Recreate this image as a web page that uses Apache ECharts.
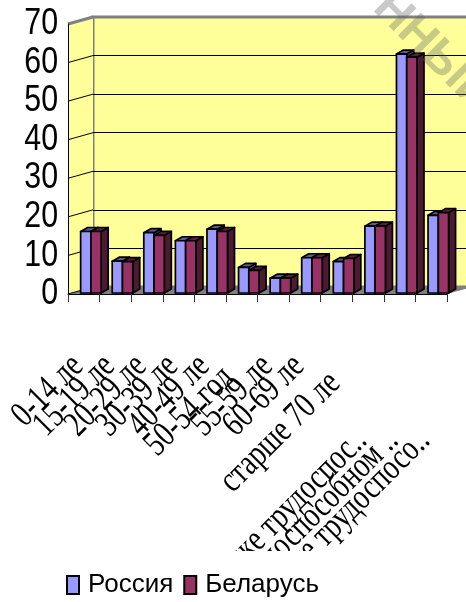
<!DOCTYPE html>
<html>
<head>
<meta charset="utf-8">
<script src="https://cdn.jsdelivr.net/npm/echarts@6/dist/echarts.min.js"></script>
<style>
  html, body { margin: 0; padding: 0; background: #ffffff; }
  #chart { width: 466px; height: 602px; }
</style>
</head>
<body>
<div id="chart"></div>
<script>
// Age structure of the population, % (Россия vs Беларусь)
const categories = [
  '0-14 лет', '15-19 лет', '20-29 лет', '30-39 лет', '40-49 лет',
  '50-54 года', '55-59 лет', '60-69 лет', 'старше 70 лет',
  'моложе трудоспособного возраста', 'в трудоспособном возрасте',
  'старше трудоспособного возраста'
];
const russia  = [16.2, 8.5, 15.9, 13.8, 16.8, 6.9, 4.1, 9.4, 8.4, 17.6, 62.2, 20.4];
const belarus = [16.2, 8.4, 15.2, 13.8, 16.2, 6.1, 4.1, 9.4, 9.2, 17.6, 61.4, 21.1];
const seriesNames = ['Россия', 'Беларусь'];
const yTicks = [0, 10, 20, 30, 40, 50, 60, 70];

// ---- styling ----
const SANS = "'Liberation Sans', Arial, sans-serif";
const WALL = '#FFFF99';
const FLOOR = '#808080';
const FACE = ['#9999FF', '#993366'];
const SIDE = ['#4D4D80', '#4D1A33'];
const TOPF = ['#5C5C99', '#5C1F3D'];
const DEPTH = [25, -7];      // depth of the plot box
const BAR_DEPTH = [7, -4];   // depth of a column

// category captions: how many characters fit, the clip mark, and a nudge
// (along = down-left along the text, across = down-right across it)
const captionFit = [
  { chars: 7 }, { chars: 8 }, { chars: 8 }, { chars: 8 }, { chars: 8 },
  { chars: 9, along: 13, across: 3 },
  { chars: 8 }, { chars: 8 },
  { chars: 12, along: 9, across: 15 },
  { chars: 16, mark: '..', along: 53, across: 52 },
  { chars: 17, mark: '..', along: 53, across: 52 },
  { chars: 17, mark: '..', along: 53, across: 52 }
];

function renderWalls(params, api) {
  const v = api.value(1);
  const bw = api.size([1, 0])[0];
  const p = api.coord([0, v]);
  const x0 = p[0] - bw / 2;
  const children = [];
  if (params.dataIndex === 0) {
    const top = api.coord([0, yTicks[yTicks.length - 1]]);
    const right = api.coord([categories.length - 1, 0])[0] + bw / 2;
    children.push({
      type: 'polygon',
      shape: { points: [[x0, top[1]], [x0 + DEPTH[0], top[1] + DEPTH[1]], [x0 + DEPTH[0], p[1] + DEPTH[1]], [x0, p[1]]] },
      style: { fill: WALL, stroke: null }
    });
    children.push({
      type: 'polygon',
      shape: { points: [[x0, p[1]], [right, p[1]], [right + DEPTH[0], p[1] + DEPTH[1]], [x0 + DEPTH[0], p[1] + DEPTH[1]]] },
      style: { fill: FLOOR, stroke: null }
    });
  }
  const isTop = v === yTicks[yTicks.length - 1];
  children.push({
    type: 'line',
    shape: { x1: x0, y1: p[1], x2: x0 + DEPTH[0], y2: p[1] + DEPTH[1] },
    style: { stroke: isTop ? '#808080' : '#000000', lineWidth: isTop ? 3 : 1 }
  });
  // value caption left of the front axis
  children.push({
    type: 'text', x: x0 - 10, y: p[1], scaleX: 0.82,
    style: { text: String(v), fill: '#000000', font: '37px ' + SANS,
             align: 'right', verticalAlign: 'middle' }
  });
  return { type: 'group', children: children };
}

function renderCaptions(params, api) {
  const i = api.value(0);
  const base = api.coord([i, 0]);
  const fit = captionFit[i];
  const name = categories[i];
  const text = name.length > fit.chars ? name.slice(0, fit.chars) + (fit.mark || '') : name;
  const a = fit.along || 0, c = fit.across || 0;
  const k = Math.SQRT1_2;
  const x = base[0] - 6 - a * k + c * k;
  const y = base[1] + 67 + a * k + c * k;
  return {
    type: 'text', x: x, y: y, rotation: Math.PI / 4, scaleY: 1.3,
    style: { text: text, fill: '#000000', font: "28px 'Liberation Serif', serif",
             align: 'right', verticalAlign: 'middle' }
  };
}

function makeBarRenderer(s) {
  return function (params, api) {
    const i = api.value(0);
    const v = api.value(1);
    const bw = api.size([1, 0])[0];
    const top = api.coord([i, v]);
    const base = api.coord([i, 0]);
    const w = bw * 0.325;
    const x1 = top[0] - bw * 0.1 + s * w;
    const x2 = x1 + w;
    const yT = top[1];
    const yB = base[1] - 1;
    const dx = BAR_DEPTH[0], dy = BAR_DEPTH[1];
    const line = { stroke: '#000000', lineWidth: 1.7, lineJoin: 'round' };
    return {
      type: 'group',
      children: [
        { type: 'polygon', shape: { points: [[x2, yT], [x2 + dx, yT + dy], [x2 + dx, yB + dy], [x2, yB]] },
          style: Object.assign({ fill: SIDE[s] }, line) },
        { type: 'polygon', shape: { points: [[x1, yT], [x1 + dx, yT + dy], [x2 + dx, yT + dy], [x2, yT]] },
          style: Object.assign({ fill: TOPF[s] }, line) },
        { type: 'polygon', shape: { points: [[x1, yT], [x2, yT], [x2, yB], [x1, yB]] },
          style: Object.assign({ fill: FACE[s] }, line) }
      ]
    };
  };
}

const chart = echarts.init(document.getElementById('chart'), null, { renderer: 'canvas' });

chart.setOption({
  backgroundColor: '#ffffff',
  animation: false,
  grid: [
    { left: 68, right: 19, top: 24, bottom: 308, outerBoundsMode: 'none', containLabel: false },
    { left: 93, right: -6, top: 17, bottom: 315, outerBoundsMode: 'none', containLabel: false,
      show: true, backgroundColor: WALL, borderColor: '#808080', borderWidth: 3, z: -1 }
  ],
  xAxis: [
    {
      type: 'category', gridIndex: 0, data: categories, z: 5,
      axisLine: { show: true, lineStyle: { color: '#000000', width: 1 } },
      axisTick: { show: true, length: 8, interval: 0, lineStyle: { color: '#333333', width: 1 } },
      axisLabel: { show: false },
      splitLine: { show: false }
    },
    { type: 'category', gridIndex: 1, data: categories, show: false }
  ],
  yAxis: [
    {
      type: 'value', gridIndex: 0, min: 0, max: 70, interval: 10, z: 5,
      axisLine: { show: true, lineStyle: { color: '#000000', width: 1 } },
      axisTick: { show: false },
      axisLabel: { show: false },
      splitLine: { show: false }
    },
    {
      type: 'value', gridIndex: 1, min: 0, max: 70, interval: 10,
      axisLine: { show: false }, axisTick: { show: false }, axisLabel: { show: false },
      splitLine: { show: true, showMinLine: false, showMaxLine: false,
                   lineStyle: { color: '#000000', width: 1 } }
    }
  ],
  legend: {
    data: seriesNames, left: 66, top: 572, z: 60, padding: 0,
    icon: 'rect', itemWidth: 12, itemHeight: 18, itemGap: 10,
    itemStyle: { borderColor: '#000000', borderWidth: 2 },
    textStyle: { color: '#000000', fontFamily: SANS, fontSize: 26, padding: [0, 0, 0, 4] }
  },
  graphic: [
    { type: 'rect', z: 50, shape: { x: 0, y: 551, width: 466, height: 51 }, style: { fill: '#ffffff' } },
    { type: 'text', z: 40, x: 381, y: 0, rotation: -Math.PI / 4,
      style: { text: 'ННЫЙ', fill: 'rgba(100,100,100,0.35)', font: "bold 47px 'Liberation Sans', sans-serif",
               textAlign: 'left', textVerticalAlign: 'middle' } }
  ],
  series: [
    {
      type: 'custom', name: 'walls', xAxisIndex: 0, yAxisIndex: 0, z: 1, silent: true,
      data: yTicks.map(v => [0, v]), renderItem: renderWalls
    },
    {
      type: 'custom', name: 'captions', xAxisIndex: 0, yAxisIndex: 0, z: 4, silent: true,
      data: categories.map((c, i) => [i, 0]), renderItem: renderCaptions
    },
    {
      type: 'custom', name: seriesNames[0], xAxisIndex: 0, yAxisIndex: 0, z: 2,
      itemStyle: { color: FACE[0] },
      data: russia.map((v, i) => [i, v]), renderItem: makeBarRenderer(0)
    },
    {
      type: 'custom', name: seriesNames[1], xAxisIndex: 0, yAxisIndex: 0, z: 3,
      itemStyle: { color: FACE[1] },
      data: belarus.map((v, i) => [i, v]), renderItem: makeBarRenderer(1)
    }
  ]
});
</script>
</body>
</html>
